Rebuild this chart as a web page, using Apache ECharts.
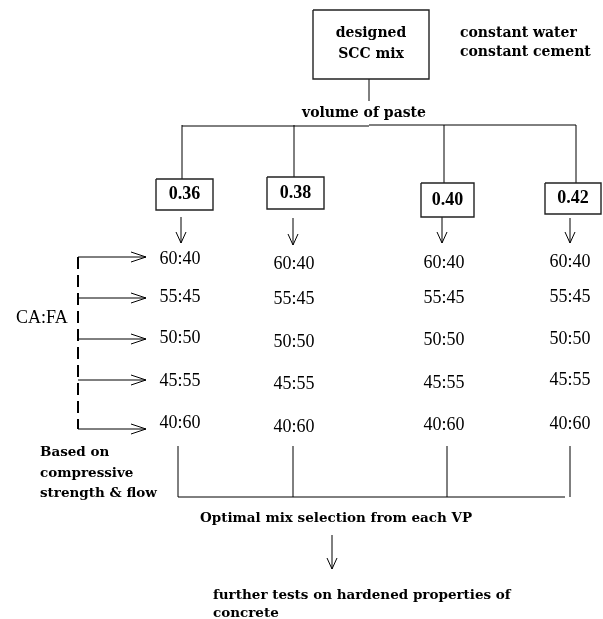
<!DOCTYPE html>
<html>
<head>
<meta charset="utf-8">
<script src="https://cdn.jsdelivr.net/npm/echarts@6/dist/echarts.min.js"></script>
<style>
html,body{margin:0;padding:0;background:#fff;}
#chart{width:603px;height:619px;}
</style>
</head>
<body>
<div id="chart"></div>
<script>
// ---------- content (data) ----------
const topNode = ['designed', 'SCC mix'];
const constants = ['constant water', 'constant cement'];
const vpTitle = 'volume of paste';
const vpLevels = ['0.36', '0.38', '0.40', '0.42'];
const ratioTitle = 'CA:FA';
const caFaRatios = ['60:40', '55:45', '50:50', '45:55', '40:60'];
const selectionNote = ['Based on', 'compressive', 'strength & flow'];
const selectionStep = 'Optimal mix selection from each VP';
const finalStep = ['further tests on hardened properties of', 'concrete'];

// ---------- layout (pixel-space axis units) ----------
const colX = [182, 294, 444, 576];
const boxX = [[156, 213], [267, 324], [421, 474], [545, 601]];
const boxY = [[179, 210], [177, 209], [183, 217], [183, 214]];
const arrowX = [181, 293, 442, 570];
const arrowTop = [217, 218, 217, 218];
const arrowBot = [243, 245, 243, 243];
const ratioRowY = [
  [259, 297, 338, 381, 423],
  [264, 299, 342, 384, 427],
  [263, 298, 340, 383, 425],
  [262, 297, 339, 380, 424]
];
const ratioColX = [180, 294, 444, 570];
const bracketRowY = [257, 298, 339, 380, 429];
const bottomX = [178, 293, 447, 570];

const boldFont = 'DejaVu Serif';
const plainFont = 'Liberation Serif';

// ---------- build lines ----------
const segs = [];
const thick = [];
const dashed = [];
function seg(a, b) { segs.push({ coords: [a, b] }); }
function vArrowDown(x, y1, y2) {
  seg([x, y1], [x, y2]);
  seg([x - 5, y2 - 11], [x, y2]);
  seg([x + 5, y2 - 11], [x, y2]);
}
function hArrowRight(x1, x2, y) {
  seg([x1, y], [x2, y]);
  seg([x2 - 15, y - 5], [x2, y]);
  seg([x2 - 15, y + 5], [x2, y]);
}
function box(x1, x2, y1, y2) {
  thick.push({ coords: [[x1, y1], [x2, y1], [x2, y2], [x1, y2], [x1, y1]] });
}

// top box
box(313, 429, 10, 79);
seg([369, 79], [369, 101]);
// bus
seg([colX[0], 126], [369, 126]);
seg([369, 125], [colX[3], 125]);
vpLevels.forEach((v, i) => {
  seg([colX[i], 125], [colX[i], boxY[i][0]]);
  box(boxX[i][0], boxX[i][1], boxY[i][0], boxY[i][1]);
  vArrowDown(arrowX[i], arrowTop[i], arrowBot[i]);
});
// left bracket
dashed.push({ coords: [[78, bracketRowY[0]], [78, bracketRowY[4]]] });
caFaRatios.forEach((r, j) => hArrowRight(78, 146, bracketRowY[j]));
// bottom collector
bottomX.forEach((x) => seg([x, 446], [x, 497]));
seg([bottomX[0], 497], [565, 497]);
vArrowDown(332, 535, 569);

// ---------- texts ----------
const texts = [];
function t(x, y, text, opt) {
  texts.push({
    value: [x, y],
    label: Object.assign({
      show: true, formatter: text, position: 'inside', color: '#000', opacity: 1,
      textBorderWidth: 0,
      fontFamily: boldFont, fontWeight: 'bold', fontSize: 13.5
    }, opt || {})
  });
}
t(371, 44, topNode.join('\n'), { lineHeight: 21, fontSize: 14 });
t(460, 33, constants[0], { position: 'right', distance: 0, fontSize: 14 });
t(460, 52, constants[1], { position: 'right', distance: 0, fontSize: 14 });
t(364, 113, vpTitle, { fontSize: 14 });
vpLevels.forEach((v, i) => {
  t((boxX[i][0] + boxX[i][1]) / 2, (boxY[i][0] + boxY[i][1]) / 2, v,
    { fontFamily: plainFont, fontSize: 18, fontWeight: 'bold' });
  caFaRatios.forEach((r, j) => {
    t(ratioColX[i], ratioRowY[i][j], r,
      { fontFamily: plainFont, fontSize: 18, fontWeight: 'normal' });
  });
});
t(16, 318, ratioTitle, { position: 'right', distance: 0, fontFamily: plainFont, fontSize: 18, fontWeight: 'normal' });
t(40, 452, selectionNote[0], { position: 'right', distance: 0 });
t(40, 473, selectionNote[1], { position: 'right', distance: 0 });
t(40, 493, selectionNote[2], { position: 'right', distance: 0 });
t(200, 518, selectionStep, { position: 'right', distance: 0 });
t(213, 595, finalStep[0], { position: 'right', distance: 0 });
t(213, 613, finalStep[1], { position: 'right', distance: 0 });

const chart = echarts.init(document.getElementById('chart'), null, { renderer: 'canvas' });
chart.setOption({
  animation: false,
  backgroundColor: '#fff',
  grid: { left: 0, right: 0, top: 0, bottom: 0 },
  xAxis: { type: 'value', min: 0, max: 603, show: false },
  yAxis: { type: 'value', min: 0, max: 619, inverse: true, show: false },
  series: [
    { type: 'lines', coordinateSystem: 'cartesian2d', polyline: true, silent: true,
      lineStyle: { color: '#000', width: 1, opacity: 1, curveness: 0 }, data: segs },
    { type: 'lines', coordinateSystem: 'cartesian2d', polyline: true, silent: true,
      lineStyle: { color: '#222', width: 1.4, opacity: 1, curveness: 0 }, data: thick },
    { type: 'lines', coordinateSystem: 'cartesian2d', polyline: true, silent: true,
      lineStyle: { color: '#000', width: 2, opacity: 1, type: [12, 6], curveness: 0 }, data: dashed },
    { type: 'scatter', silent: true, symbolSize: 0, data: texts,
      itemStyle: { opacity: 1 },
      labelLayout: { hideOverlap: false } }
  ]
});
</script>
</body>
</html>
